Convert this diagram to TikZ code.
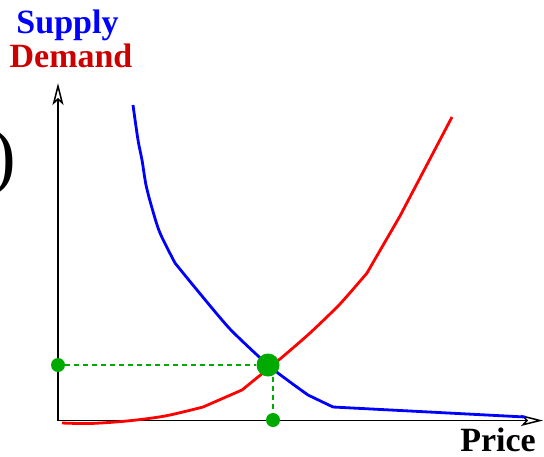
\documentclass[tikz,border=0pt]{standalone}
\usepackage{fontspec}
\setmainfont{Liberation Serif}
\usetikzlibrary{arrows.meta}
\definecolor{sblue}{RGB}{0,0,255}
\definecolor{dred}{RGB}{204,0,0}
\definecolor{cred}{RGB}{255,0,0}
\definecolor{eqgreen}{RGB}{0,170,0}
\begin{document}
\begin{tikzpicture}[x=1pt,y=-1pt,
  axis/.style={line width=1.6pt,-{Stealth[open,length=22pt,width=11pt,inset=5pt,line width=1.5pt]}},
  curve/.style={line width=2.8pt,line join=round},
  guide/.style={eqgreen,line width=1.3pt,dash pattern=on 5pt off 4pt},
  bigdot/.style={circle,fill=eqgreen,inner sep=0pt,minimum size=23pt},
  smalldot/.style={circle,fill=eqgreen,inner sep=0pt,minimum size=14pt},
  lab/.style={font=\fontsize{34}{36}\selectfont\bfseries,inner sep=0pt,anchor=base}]
\useasboundingbox (0,0) rectangle (544,456);
% axes
\coordinate (O) at (58,421);
\coordinate (Ox) at (57.2,420.5);
\coordinate (ytip) at (58,83);
\coordinate (xtip) at (543,420.5);
\draw[axis] (O) -- (ytip);
\draw[axis] (Ox) -- (xtip);
% labels
\node[lab,text=sblue] (supply) at (67.5,33) {Supply};
\node[lab,text=dred] (demand) at (71,67) {Demand};
\node[lab] (price) at (498,451) {Price};
\node[font=\fontsize{74}{80}\selectfont,inner sep=0pt,anchor=base east] (paren) at (16,180) {)};
% curves
\draw[curve,cred] plot[smooth,tension=0.5] coordinates {(62,423) (90,423.5) (127,421) (165,416) (203,407)}
  -- (242,390) plot[smooth,tension=0.4] coordinates {(242,390) (280,359) (310,333) (340,304) (367,273)}
  -- (400,216) -- (452,117);
\draw[curve,sblue] plot[smooth,tension=0.5] coordinates {(133,105) (138,140) (142,160) (146,185) (152,208) (160,233) (175,263)}
  plot[smooth,tension=0.4] coordinates {(175,263) (197,290) (230,329) (268,365) (290,382) (308,395)}
  -- (333,407) -- (525,417);
% equilibrium
\node[smalldot] (py) at (58,365) {};
\node[smalldot] (px) at (273,420) {};
\node[bigdot] (eq) at (268,365) {};
\draw[guide] (py) -- (eq);
\draw[guide] (px |- eq.south) -- (px);
\end{tikzpicture}
\end{document}
